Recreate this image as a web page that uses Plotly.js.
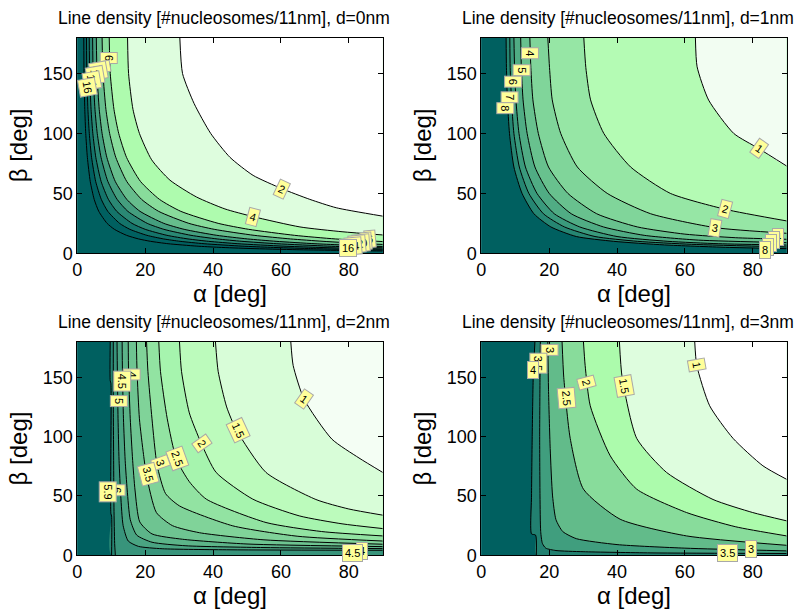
<!DOCTYPE html>
<html><head><meta charset="utf-8">
<script src="https://cdn.plot.ly/plotly-3.0.1.min.js"></script>
<style>html,body{margin:0;padding:0;background:#fff}#chart{width:808px;height:612px}</style>
</head><body><div id="chart"></div>
<script>
const ALPHA_RANGE = [0, 90];
const BETA_RANGE = [0, 180];
const xTicks = [0, 20, 40, 60, 80];
const yTicks = [0, 50, 100, 150];
const panelTitles = [
  'Line density [#nucleosomes/11nm], d=0nm',
  'Line density [#nucleosomes/11nm], d=1nm',
  'Line density [#nucleosomes/11nm], d=2nm',
  'Line density [#nucleosomes/11nm], d=3nm'
];

// ---------- d = 0 nm ----------
const d0Levels = [2, 4, 6, 8, 10, 12, 14, 16, 18];
const d0Alpha = [
  [30.2, 31.0, 34.4, 39.3, 45, 51.8, 60.2, 68.5, 76.3, 90],
  [14.8, 15.1, 16.4, 18.3, 21.9, 27.3, 35.1, 43.5, 51.8, 65.6, 78, 90],
  [9.4, 9.7, 10.8, 12.2, 14.5, 18.6, 24.2, 30.5, 41.5, 50.5, 64, 76, 90],
  [7.3, 7.56, 8.43, 9.52, 11.34, 14.55, 18.93, 23.96, 32.85, 40.34, 52.1, 62.8, 72.4, 84.9, 90],
  [5.6, 5.8, 6.46, 7.3, 8.7, 11.17, 14.57, 18.48, 25.47, 31.47, 41.1, 50.16, 58.57, 70.03, 86.2, 90],
  [4.5, 4.66, 5.2, 5.87, 6.99, 8.99, 11.73, 14.89, 20.59, 25.5, 33.5, 41.2, 48.5, 58.8, 73.8, 84.0, 90],
  [3.5, 3.63, 4.05, 4.57, 5.45, 7.0, 9.15, 11.62, 16.1, 20.0, 26.4, 32.6, 38.66, 47.3, 60.6, 70.1, 82.4, 90],
  [2.7, 2.8, 3.12, 3.53, 4.2, 5.4, 7.06, 8.98, 12.45, 15.48, 20.5, 25.44, 30.29, 37.36, 48.56, 56.86, 68.1, 84.0, 90],
  [1.9, 1.97, 2.2, 2.48, 2.96, 3.8, 4.97, 6.32, 8.77, 10.92, 14.5, 18.05, 21.56, 26.74, 35.2, 41.7, 50.9, 64.7, 87.0, 90]
];
const d0Beta = [
  [180, 150, 125, 100, 80, 65, 54, 45, 38, 31],
  [180, 150, 120, 100, 78, 61, 47, 37, 30.6, 22, 18, 15.3],
  [180, 150, 120, 100, 80, 60, 45, 35, 25, 20, 15, 12, 9.8],
  [180, 150, 120, 100, 80, 60, 45, 35, 25, 20, 15, 12, 10, 8, 7.4],
  [180, 150, 120, 100, 80, 60, 45, 35, 25, 20, 15, 12, 10, 8, 6, 5.7],
  [180, 150, 120, 100, 80, 60, 45, 35, 25, 20, 15, 12, 10, 8, 6, 5, 4.6],
  [180, 150, 120, 100, 80, 60, 45, 35, 25, 20, 15, 12, 10, 8, 6, 5, 4, 3.6],
  [180, 150, 120, 100, 80, 60, 45, 35, 25, 20, 15, 12, 10, 8, 6, 5, 4, 3, 2.8],
  [180, 150, 120, 100, 80, 60, 45, 35, 25, 20, 15, 12, 10, 8, 6, 5, 4, 3, 2, 1.95]
];
const d0Colors = ['#FFFFFF', '#DEFDDE', '#AEFBAE', '#88DC9B', '#66BD8C', '#449E7E', '#2A8874', '#14746A', '#006060', '#006060'];
const d0LabelText  = ['2', '4', '6', '8', '10', '12', '14', '16', '6', '8', '10', '12', '14', '16'];
const d0LabelAlpha = [60.2, 51.8, 9.3, 7.2, 6.2, 5.2, 4.2, 3.0, 86.3, 85.0, 83.7, 82.4, 81.1, 79.8];
const d0LabelBeta  = [54, 30.6, 163, 155.5, 152, 148.6, 144.4, 138.9, 12, 10.5, 9, 7.6, 6.2, 4.7];
const d0LabelAngle = [25, 15, 90, 80, 80, 80, 80, 80, -5, -5, -5, -5, -5, 0];

// ---------- d = 1 nm ----------
const d1Levels = [1, 2, 3, 4, 5, 6, 7, 8];
const d1Alpha = [
  [63.1, 63.6, 67, 74.4, 81.7, 90],
  [30.2, 30.8, 32.2, 36.1, 44, 55.7, 71.9, 90],
  [19.6, 20.1, 20.9, 23.4, 28.3, 37.1, 49.9, 69, 90],
  [14.3, 14.6, 15.2, 16.8, 19.8, 25.5, 34, 46, 60, 75, 90],
  [11.6, 11.8, 12.3, 13.5, 15.8, 20, 26.5, 36, 48, 64, 90],
  [9.6, 9.8, 10.2, 11.1, 13, 16.4, 21.5, 29, 40, 55, 70, 90],
  [8.4, 8.5, 8.9, 9.6, 11.2, 14, 18.3, 24.5, 33.5, 46, 62, 90],
  [7.3, 7.4, 7.7, 8.3, 9.6, 12, 15.5, 20.5, 28, 39, 54, 72, 90]
];
const d1Beta = [
  [180, 155.6, 127.8, 100, 87.5, 72.8],
  [180, 155, 128, 100, 72, 50, 36.7, 27],
  [180, 155, 128, 100, 72, 50, 33, 21.4, 16.7],
  [180, 155, 128, 100, 72, 50, 33, 22, 16, 13, 11.7],
  [180, 155, 128, 100, 72, 50, 33, 22, 15, 11, 8.9],
  [180, 155, 128, 100, 72, 50, 33, 22, 14, 10, 8, 6.9],
  [180, 155, 128, 100, 72, 50, 33, 22, 14, 10, 7.5, 5.3],
  [180, 155, 128, 100, 72, 50, 33, 22, 14, 10, 7, 5, 3.9]
];
const d1Colors = ['#F2FDF2', '#B4FBB4', '#96E6A5', '#80D59A', '#68C18E', '#50AC84', '#3A9A7C', '#268672', '#006060'];
const d1LabelText  = ['1', '2', '3', '4', '5', '6', '7', '8', '4', '5', '6', '7', '8'];
const d1LabelAlpha = [81.7, 71.9, 69, 14.3, 11.9, 9.4, 8.2, 7.0, 87.3, 86.4, 85.5, 84.6, 83.6];
const d1LabelBeta  = [87.5, 36.7, 21.4, 167, 153, 143, 130, 121, 13.9, 11.1, 8.3, 5.5, 2.75];
const d1LabelAngle = [35, 15, 10, 90, 90, 90, 90, 90, 0, 0, 0, 0, 0];

// ---------- d = 2 nm ----------
const d2Levels = [1, 1.5, 2, 2.5, 3, 3.5, 4, 4.5, 5, 5.5, 6];
const d2Alpha = [
  [62.9, 63.6, 66.8, 75, 83, 90],
  [40.7, 41.5, 44, 46.8, 55.6, 70.3, 80, 90],
  [30.1, 30.7, 33, 36.5, 40.9, 51.7, 65.4, 78, 90],
  [24, 24.5, 26.5, 29.2, 33, 38, 55.6, 72, 90],
  [20.4, 20.8, 22, 23.5, 26, 30.1, 45.8, 65, 90],
  [17.4, 17.6, 18.3, 19.5, 20.4, 23.3, 28, 36, 55, 90],
  [15, 15.1, 15.6, 16.3, 17, 18.4, 22, 31, 50, 90],
  [13.2, 13.3, 13.6, 14.1, 14.7, 15.6, 17.5, 22, 32, 55, 90],
  [11.7, 11.8, 12, 12.3, 12.8, 13.5, 15, 18, 25, 45, 90],
  [10.6, 10.6, 10.7, 10.8, 11.0, 11.2],
  [9.7, 9.7, 9.9, 9.9, 10.1, 10.1]
];
const d2Beta = [
  [180, 160, 131.6, 97.9, 82, 69.8],
  [180, 155, 125, 106, 69.8, 47, 39, 33.8],
  [180, 155, 120, 94.5, 69.8, 47.3, 33.2, 26.5, 22.5],
  [180, 155, 115, 81, 62, 47.3, 27.6, 20, 16.3],
  [180, 155, 115, 76, 52, 41.6, 24.8, 16, 12],
  [180, 155, 115, 85, 67, 36, 25, 19, 13, 9.3],
  [180, 155, 115, 80, 55, 28.1, 18, 13.5, 9.5, 7.3],
  [180, 155, 115, 80, 55, 30, 17, 11, 8, 6.5, 5.6],
  [180, 155, 115, 80, 50, 25, 12, 7.5, 5.5, 4.6, 4.2],
  [180, 130, 80, 40, 10, 0],
  [180, 147, 145, 35, 33, 0]
];
const d2Colors = ['#F4FEF4', '#D8FDD8', '#BCFBBC', '#A6F4AE', '#92E3A2', '#80D399', '#6EC491', '#5CB489', '#4AA482', '#38947B', '#268573', '#006060'];
const d2LabelText  = ['1', '1.5', '2', '2.5', '3', '3.5', '4', '4.5', '5', '6', '5.9', '4', '4.5'];
const d2LabelAlpha = [66.8, 47.4, 36.6, 29.4, 24.5, 20.9, 16, 13.1, 12.1, 11.6, 9.1, 84, 81];
const d2LabelBeta  = [131.6, 105.7, 94.5, 81.9, 77.6, 68.6, 152.7, 146.5, 129.6, 55.1, 53.7, 4, 1.5];
const d2LabelAngle = [35, 65, 55, 70, 70, 75, 90, 90, 90, 90, 90, 0, 0];

// ---------- d = 3 nm ----------
const d3Levels = [1, 1.5, 2, 2.5, 3, 3.5, 4];
const d3Alpha = [
  [62.9, 63.5, 67.3, 74.2, 83, 90],
  [40.7, 41.5, 45.8, 54.6, 68.3, 80, 90],
  [30.1, 30.6, 32.1, 38, 45.8, 60.5, 75, 90],
  [23.8, 24.3, 26.2, 30.1, 40.9, 60.5, 90],
  [19.6, 19.8, 20.3, 21, 22, 24, 28, 40, 60, 90],
  [17.4, 17.3, 17.2, 17.3, 17.5, 18, 19, 22, 30, 50, 90],
  [15.8, 15.3, 15.0, 14.8, 14.8, 16.0, 16.2]
];
const d3Beta = [
  [180, 160, 126, 98.5, 75.4, 64],
  [180, 150, 98.5, 69.8, 47, 36, 29],
  [180, 160, 126, 83.8, 55.7, 36, 24, 16.3],
  [180, 150, 98.5, 55.7, 30.4, 16.3, 8.4],
  [180, 140, 90, 50, 30, 20, 14, 9, 6, 3.7],
  [180, 150, 100, 50, 20, 10, 6, 4, 3, 2, 1.5],
  [180, 150, 100, 50, 18, 17, 0]
];
const d3Colors = ['#FFFFFF', '#DEFDDE', '#ACFBAC', '#88DC9B', '#62BB8A', '#409E7E', '#228070', '#006060'];
const d3LabelText  = ['1', '1.5', '2', '2.5', '3', '3.5', '4', '3.5', '3'];
const d3LabelAlpha = [63.4, 42, 31, 25.1, 20.2, 16.8, 15.1, 72.7, 79.5];
const d3LabelBeta  = [160, 142.3, 145.1, 132.5, 173.2, 162, 156.4, 2.3, 5];
const d3LabelAngle = [80, 80, 75, 85, 90, 90, 0, 0, 0];

// ---------- build ----------
const panels = [
  {alpha: d0Alpha, beta: d0Beta, levels: d0Levels, colors: d0Colors, lt: d0LabelText, la: d0LabelAlpha, lb: d0LabelBeta, lang: d0LabelAngle},
  {alpha: d1Alpha, beta: d1Beta, levels: d1Levels, colors: d1Colors, lt: d1LabelText, la: d1LabelAlpha, lb: d1LabelBeta, lang: d1LabelAngle},
  {alpha: d2Alpha, beta: d2Beta, levels: d2Levels, colors: d2Colors, lt: d2LabelText, la: d2LabelAlpha, lb: d2LabelBeta, lang: d2LabelAngle},
  {alpha: d3Alpha, beta: d3Beta, levels: d3Levels, colors: d3Colors, lt: d3LabelText, la: d3LabelAlpha, lb: d3LabelBeta, lang: d3LabelAngle}
];
const domX = [[0.0957, 0.4737], [0.5957, 0.9736], [0.0957, 0.4737], [0.5957, 0.9736]];
const domY = [[0.5861, 0.9387], [0.5861, 0.9387], [0.0927, 0.4417], [0.0927, 0.4417]];

const traces = [];
const annotations = [];
const layout = {
  width: 808, height: 612,
  margin: {l: 0, r: 0, t: 0, b: 0},
  paper_bgcolor: '#FFFFFF', plot_bgcolor: '#006060',
  showlegend: false,
  font: {family: 'Liberation Sans, Arial, sans-serif', color: '#000'}
};
const aMax = ALPHA_RANGE[1] + 5, bMax = BETA_RANGE[1] + 5;

panels.forEach((p, k) => {
  const xa = k === 0 ? 'x' : 'x' + (k + 1);
  const ya = k === 0 ? 'y' : 'y' + (k + 1);
  const n = p.levels.length;
  traces.push({type: 'scatter', mode: 'lines', xaxis: xa, yaxis: ya, hoverinfo: 'skip',
    x: [ALPHA_RANGE[0] - 5, aMax, aMax, ALPHA_RANGE[0] - 5], y: [BETA_RANGE[0] - 5, BETA_RANGE[0] - 5, bMax, bMax],
    fill: 'toself', fillcolor: p.colors[n], line: {width: 0}});
  for (let i = n - 1; i >= 0; i--) {
    const a = p.alpha[i].slice(), b = p.beta[i].slice();
    const lastB = b[b.length - 1];
    a.unshift(a[0]); b.unshift(bMax);
    a.push(aMax, aMax); b.push(lastB === 0 ? BETA_RANGE[0] - 5 : lastB, bMax);
    traces.push({type: 'scatter', mode: 'lines', xaxis: xa, yaxis: ya, hoverinfo: 'skip',
      x: a, y: b, fill: 'toself', fillcolor: p.colors[i], line: {width: 0, shape: 'spline', smoothing: 0.6}});
  }
  for (let i = 0; i < n; i++) {
    traces.push({type: 'scatter', mode: 'lines', xaxis: xa, yaxis: ya, hoverinfo: 'skip',
      x: p.alpha[i], y: p.beta[i], line: {color: '#000', width: 1, shape: 'spline', smoothing: 0.6}});
  }
  for (let j = 0; j < p.lt.length; j++) {
    annotations.push({xref: xa, yref: ya, x: p.la[j], y: p.lb[j], text: p.lt[j], showarrow: false,
      textangle: p.lang[j], bgcolor: '#FFFF99', bordercolor: '#A8A8A8', borderwidth: 1, borderpad: 2,
      font: {size: 11, color: '#000'}});
  }
  const axBase = {showline: true, mirror: 'ticks', linecolor: '#000', linewidth: 1, ticks: 'inside',
    ticklen: 5, tickcolor: '#000', showgrid: false, zeroline: false, automargin: false,
    tickfont: {size: 18, color: '#000'}};
  layout[k === 0 ? 'xaxis' : 'xaxis' + (k + 1)] = Object.assign({}, axBase, {
    domain: domX[k], range: ALPHA_RANGE, tickvals: xTicks, anchor: ya,
    title: {text: '\u03b1 [deg]', font: {size: 24}, standoff: 0}});
  layout[k === 0 ? 'yaxis' : 'yaxis' + (k + 1)] = Object.assign({}, axBase, {
    domain: domY[k], range: BETA_RANGE, tickvals: yTicks, anchor: xa,
    title: {text: '\u03b2 [deg]', font: {size: 24}, standoff: 8}});
  annotations.push({xref: 'paper', yref: 'paper', x: (domX[k][0] + domX[k][1]) / 2 - 0.008,
    y: domY[k][1] + 0.032, yanchor: 'middle', xanchor: 'center', showarrow: false,
    text: panelTitles[k], font: {size: 17.5, color: '#000'}});
});
layout.annotations = annotations;
Plotly.newPlot('chart', traces, layout, {staticPlot: true});
</script></body></html>
